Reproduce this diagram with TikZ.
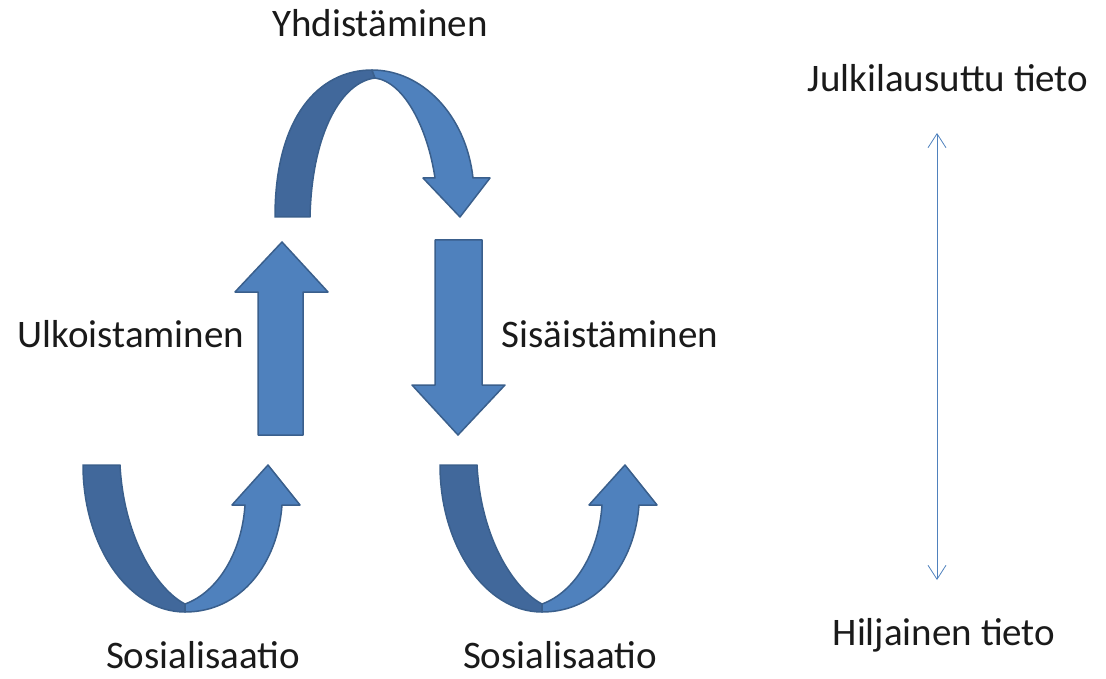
\documentclass[tikz,border=0pt]{standalone}
\usepackage{fontspec}
\setmainfont{Carlito}
\usetikzlibrary{arrows.meta}
\definecolor{lightb}{HTML}{4F81BD}
\definecolor{darkb}{HTML}{41689B}
\definecolor{edgeb}{HTML}{3A5F8C}
\definecolor{txt}{HTML}{1A1A1A}
\begin{document}
\begin{tikzpicture}[x=1pt,y=-1pt,
  lbl/.style={anchor=base,font=\fontsize{39}{46}\selectfont,text=txt,inner sep=0pt},
  darkpart/.style={fill=darkb,draw=edgeb,line width=1.5pt,line join=round},
  lightpart/.style={fill=lightb,draw=edgeb,line width=1.5pt,line join=round},
  axis/.style={draw=lightb,line width=0.8pt,{Straight Barb[length=14pt,width=18pt]}-{Straight Barb[length=14pt,width=18pt]}}]
\useasboundingbox (0,0) rectangle (1106,679);

% top arc (Yhdistaminen)
\path[darkpart] (275,217) .. controls (275,118) and (318,70) .. (372,70) -- (375,78)
  .. controls (342,82) and (312,132) .. (310,217) -- cycle;
\path[lightpart] (372,70) .. controls (422,70) and (466,115) .. (473,178) -- (490,178) -- (460,217)
  -- (423,178) -- (435,178) .. controls (428,130) and (405,82) .. (375,78) -- cycle;

% up arrow (Ulkoistaminen)
\path[lightpart] (258,435) -- (258,292) -- (235,292) -- (282,242) -- (328,292) -- (303,292) -- (303,435) -- cycle;

% down arrow (Sisaistaminen)
\path[lightpart] (435,240) -- (482,240) -- (482,385) -- (505,385) -- (458,435) -- (412,385) -- (435,385) -- cycle;

% bottom U arrows
\foreach \dx in {0,357}{
\begin{scope}[xshift=\dx]
\path[darkpart] (83,465) .. controls (83,545) and (128,612) .. (185,612) -- (185,604)
  .. controls (158,590) and (124,540) .. (120,465) -- cycle;
\path[lightpart] (185,612) .. controls (242,612) and (278,562) .. (282,505) -- (300,505) -- (268,465)
  -- (232,505) -- (245,505) .. controls (242,552) and (218,592) .. (185,604) -- cycle;
\end{scope}}

% labels
\node[lbl] (yhd) at (380,37) {Yhdistäminen};
\node[lbl] (ulk) at (131,347) {Ulkoistaminen};
\node[lbl] (sis) at (610,347) {Sisäistäminen};
\node[lbl] (sos1) at (203,668) {Sosialisaatio};
\node[lbl] (sos2) at (560,668) {Sosialisaatio};
\node[lbl] (jul) at (948,92) {Julkilausuttu tieto};
\node[lbl] (hil) at (944,645) {Hiljainen tieto};

\coordinate (atop) at (937,133);
\coordinate (abot) at (937,580);
\draw[axis] (atop) -- (abot);
\end{tikzpicture}
\end{document}
